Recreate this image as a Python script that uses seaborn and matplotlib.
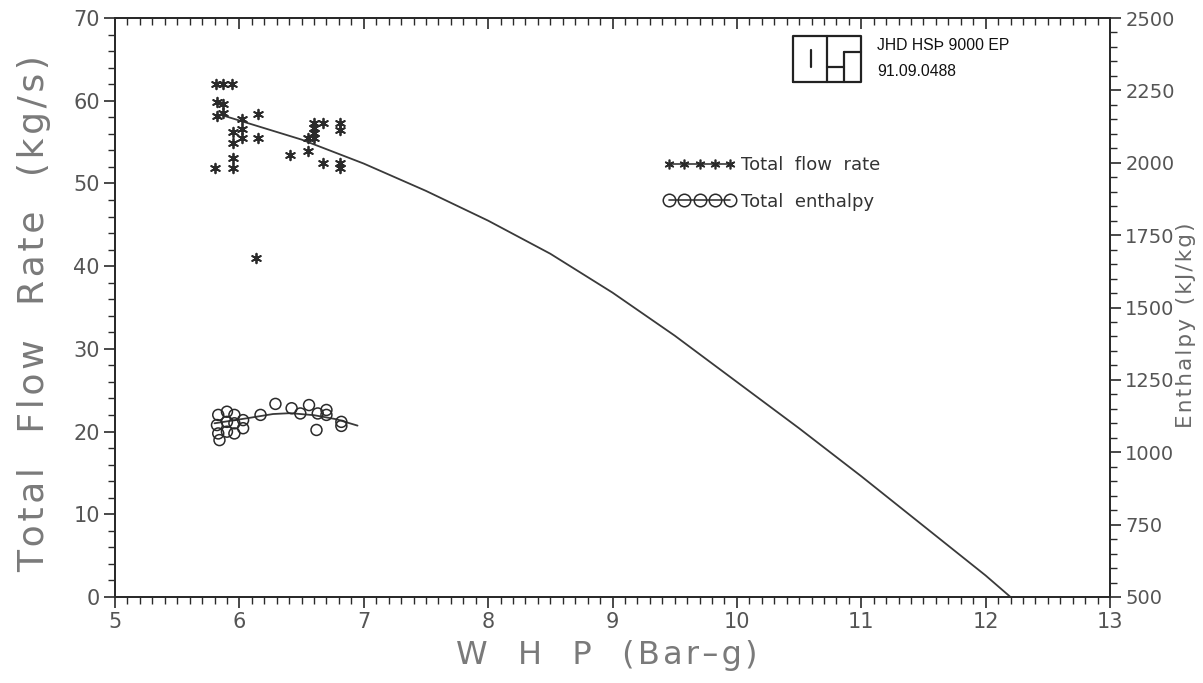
import numpy as np
import pandas as pd
import matplotlib
matplotlib.use("Agg")
import matplotlib.pyplot as plt
import seaborn as sns
from matplotlib.ticker import MultipleLocator
from matplotlib.lines import Line2D

# Measured total flow (kg/s) against well-head pressure (bar-g)
flow_whp = [5.81, 5.87, 5.94, 5.82, 5.87, 5.82, 5.87, 6.02, 6.02, 6.02,
            5.95, 5.95, 5.95, 5.95, 5.80, 6.15, 6.15, 6.41, 6.55, 6.55,
            6.60, 6.60, 6.60, 6.60, 6.67, 6.67, 6.81, 6.81, 6.81, 6.81,
            6.13]
flow_rate = [62.0, 62.0, 62.0, 59.8, 59.6, 58.2, 58.5, 57.8, 56.6, 55.5,
             56.2, 54.9, 53.1, 51.9, 51.9, 58.4, 55.5, 53.4, 53.9, 55.5,
             57.3, 56.7, 56.1, 55.5, 57.3, 52.5, 57.3, 56.5, 52.5, 51.9,
             41.0]

# Measured total enthalpy (kJ/kg) against well-head pressure (bar-g)
enth_whp = [5.83, 5.82, 5.83, 5.84, 5.90, 5.90, 5.90, 5.96, 5.96, 5.96,
            6.03, 6.03, 6.17, 6.29, 6.42, 6.49, 6.56, 6.63, 6.70, 6.70,
            6.62, 6.82, 6.82]
enthalpy = [1129, 1094, 1065, 1042, 1140, 1105, 1071, 1129, 1100, 1065,
            1111, 1083, 1129, 1167, 1152, 1134, 1163, 1134, 1146, 1129,
            1077, 1105, 1091]

# Fitted deliverability curve (flow) and enthalpy trend
fit_whp = [5.85, 6.50, 7.00, 7.50, 8.00, 8.50, 9.00, 9.50, 10.00, 10.50,
           11.00, 11.50, 12.00, 12.20]
fit_flow = [58.3, 55.3, 52.4, 49.1, 45.5, 41.5, 36.8, 31.6, 26.0, 20.4,
            14.6, 8.6, 2.6, 0.0]
fit_enth_whp = [5.80, 6.07, 6.27, 6.41, 6.60, 6.78, 6.95]
fit_enth = [1100, 1118, 1132, 1135, 1128, 1114, 1092]

x_ticks = [5, 6, 7, 8, 9, 10, 11, 12, 13]
flow_ticks = [0, 10, 20, 30, 40, 50, 60, 70]
enth_ticks = [500, 750, 1000, 1250, 1500, 1750, 2000, 2250, 2500]

sns.set_theme(style="ticks")
plt.rcParams["font.family"] = ["DejaVu Sans"]

ink = "#2a2a2a"
tick_col = "#555555"
label_col = "#7a7a7a"
HAIR = "\u200a"


def spaced(word):
    """Open up the letter spacing of a word slightly."""
    return HAIR.join(word)


fig = plt.figure(figsize=(12.03, 6.83), dpi=100)
ax = fig.add_axes([115 / 1203, 1 - 597 / 683, (1110 - 115) / 1203, (597 - 18) / 683])
ax2 = ax.twinx()

flow_df = pd.DataFrame({"whp": flow_whp, "flow": flow_rate})
enth_df = pd.DataFrame({"whp": enth_whp, "enth": enthalpy})
fit_df = pd.DataFrame({"whp": fit_whp, "flow": fit_flow})
fit_e_df = pd.DataFrame({"whp": fit_enth_whp, "enth": fit_enth})

star = (6, 2, 0)
sns.scatterplot(data=flow_df, x="whp", y="flow", ax=ax, marker=star, s=48,
                color=ink, linewidth=1.3, edgecolor=ink, legend=False, zorder=3)
sns.lineplot(data=fit_df, x="whp", y="flow", ax=ax, color="#3a3a3a", lw=1.3,
             sort=False, estimator=None, zorder=2)

sns.scatterplot(data=enth_df, x="whp", y="enth", ax=ax2, marker="o", s=62,
                facecolor="none", edgecolor=ink, linewidth=1.1, legend=False, zorder=3)
sns.lineplot(data=fit_e_df, x="whp", y="enth", ax=ax2, color="#3a3a3a", lw=1.3,
             sort=False, estimator=None, zorder=2)

ax.set_xlim(5, 13)
ax.set_ylim(0, 70)
ax2.set_ylim(500, 2500)

ax.set_xticks(x_ticks)
ax.set_yticks(flow_ticks)
ax2.set_yticks(enth_ticks)
ax.xaxis.set_minor_locator(MultipleLocator(0.1))
ax.yaxis.set_minor_locator(MultipleLocator(2))
ax2.yaxis.set_minor_locator(MultipleLocator(50))

for a in (ax, ax2):
    for sp in a.spines.values():
        sp.set_visible(True)
        sp.set_color(ink)
        sp.set_linewidth(1.3)

ax.tick_params(axis="x", which="major", direction="out", length=8, width=1.2,
               color=ink, labelsize=15, labelcolor=tick_col, pad=3, top=False)
ax.tick_params(axis="x", which="minor", direction="out", length=5, width=1.0,
               color=ink, top=False)
ax.tick_params(axis="y", which="major", direction="out", length=8, width=1.2,
               color=ink, labelsize=15, labelcolor=tick_col, pad=3)
ax.tick_params(axis="y", which="minor", direction="out", length=5, width=1.0,
               color=ink)
ax2.tick_params(axis="y", which="major", direction="out", length=8, width=1.2,
                color=ink, labelsize=14, labelcolor=tick_col, pad=3)
ax2.tick_params(axis="y", which="minor", direction="out", length=5, width=1.0,
                color=ink)

# top edge ticks hang into the plot
sec = ax.secondary_xaxis("top")
sec.set_xticks(x_ticks)
sec.xaxis.set_minor_locator(MultipleLocator(0.1))
sec.tick_params(which="major", direction="in", length=8, width=1.2, color=ink,
                labeltop=False)
sec.tick_params(which="minor", direction="in", length=5, width=1.0, color=ink)
sec.spines["top"].set_color(ink)
sec.spines["top"].set_linewidth(1.3)

# axis titles
x_title = "   ".join(["W", "H", "P", spaced("(Bar\u2013g)")])
ax.set_xlabel(x_title, fontsize=23, color=label_col)
ax.xaxis.set_label_coords(0.494, -0.074)

y_title = "   ".join(spaced(w) for w in ["Total", "Flow", "Rate", "(kg/s)"])
ax.set_ylabel(y_title, fontsize=26, color=label_col)
ax.yaxis.set_label_coords(-0.064, 0.49)

r_title = "  ".join(spaced(w) for w in ["Enthalpy", "(kJ/kg)"])
ax2.set_ylabel(r_title, fontsize=15.5, color="#6a6a6a")
ax2.yaxis.set_label_coords(1.066, 0.47)

# legend with five symbols drawn along each line
handles = [
    Line2D([], [], color="#3a3a3a", lw=1.2, marker=star, markersize=7,
           markeredgewidth=1.2, markeredgecolor=ink),
    Line2D([], [], color="#3a3a3a", lw=1.2, marker="o", markersize=9,
           markerfacecolor="none", markeredgewidth=1.1, markeredgecolor=ink),
]
leg = ax.legend(handles, ["Total  flow  rate", "Total  enthalpy"],
                loc="upper left", bbox_to_anchor=(0.535, 0.79), frameon=False,
                numpoints=5, handlelength=4.0, handletextpad=0.3,
                labelspacing=1.05, fontsize=13)
for t in leg.get_texts():
    t.set_color("#333333")

# company logo and report number
def fx(px):
    return px / 1203


def fy(py):
    return 1 - py / 683


lx0, lx1, ly0, ly1 = 793, 861, 82, 36
logo = [
    ([lx0, lx1, lx1, lx0, lx0], [ly0, ly0, ly1, ly1, ly0]),
    ([827, 827], [ly0, ly1]),
    ([811, 811], [50, 67]),
    ([844, 861], [52, 52]),
    ([844, 844], [52, ly0]),
    ([827, 844], [67, 67]),
]
for xs, ys in logo:
    fig.add_artist(Line2D([fx(v) for v in xs], [fy(v) for v in ys],
                          color="#222222", lw=1.6))
logo_font = ["Liberation Sans"]
fig.text(fx(877), fy(46), "JHD HS\u00de 9000 EP", fontsize=11.3,
         family=logo_font, color="#111111", va="center", ha="left")
fig.text(fx(877), fy(72), "91.09.0488", fontsize=11.3,
         family=logo_font, color="#111111", va="center", ha="left")

fig.savefig("out.png", dpi=100, facecolor="white")
